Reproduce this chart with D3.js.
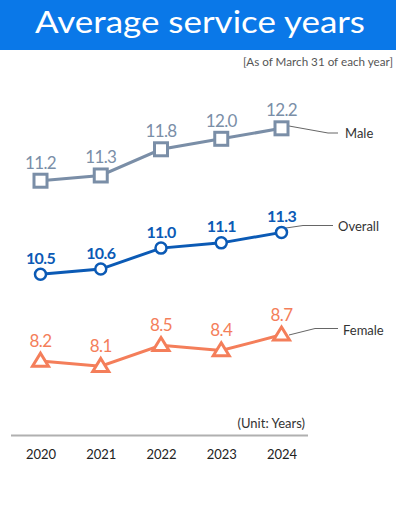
<!DOCTYPE html>
<html><head><meta charset="utf-8">
<script src="https://cdn.jsdelivr.net/npm/d3@7"></script>
<style>body{margin:0;background:#fff}svg{display:block}</style>
</head><body>
<svg id="chart" width="397" height="531"></svg>
<script>
const years = ["2020","2021","2022","2023","2024"];
const maleValues = [11.2, 11.3, 11.8, 12.0, 12.2];
const overallValues = [10.5, 10.6, 11.0, 11.1, 11.3];
const femaleValues = [8.2, 8.1, 8.5, 8.4, 8.7];
const seriesNames = ["Male","Overall","Female"];
const titleText = "Average service years";
const noteText = "[As of March 31 of each year]";
const unitText = "(Unit: Years)";

const svg = d3.select("#chart");
const font = "Lato, 'Noto Sans', sans-serif";

// title bar
svg.append("rect").attr("x",0).attr("y",0).attr("width",396).attr("height",50).attr("fill","#0a78e8");
svg.append("text").attr("x",200).attr("y",33).attr("text-anchor","middle")
  .attr("fill","#fff").attr("font-family",font).attr("font-size",30)
  .attr("textLength",330).attr("lengthAdjust","spacingAndGlyphs").text(titleText);
svg.append("text").attr("x",393).attr("y",66).attr("text-anchor","end")
  .attr("fill","#555").attr("font-family",font).attr("font-size",11.5)
  .attr("textLength",150).attr("lengthAdjust","spacingAndGlyphs").text(noteText);

const x = d3.scalePoint().domain(years).range([40.5, 281.5]);

const series = [
  {name:seriesNames[0], values:maleValues, color:"#7a8ea7", marker:"square",
   y:d3.scaleLinear().domain([11,12.5]).range([191.2,112.6]),
   labelDy:-18, labelWeight:400, labelSize:17,
   leader:[[289,126],[328,133],[338,133]], legendX:345, legendY:133},
  {name:seriesNames[1], values:overallValues, color:"#0b5ab5", marker:"circle",
   y:d3.scaleLinear().domain([10.3,11.5]).range([284.8,221.9]),
   labelDy:-16, labelWeight:700, labelSize:16,
   leader:[[286,228],[303,225.5],[333,225.5]], legendX:338, legendY:226},
  {name:seriesNames[2], values:femaleValues, color:"#f47e5a", marker:"triangle",
   y:d3.scaleLinear().domain([8,9]).range([371.5,319.1]),
   labelDy:-20, labelWeight:400, labelSize:17,
   leader:[[289,335],[315,328.5],[338,328.5]], legendX:343, legendY:330}
];

const line = d3.line();
series.forEach(s => {
  const pts = s.values.map((v,i)=>[x(years[i]), s.y(v)]);
  svg.append("path").attr("d", line(s.leader)).attr("fill","none")
    .attr("stroke","#666").attr("stroke-width",1);
  svg.append("text").attr("x",s.legendX).attr("y",s.legendY).attr("dy","0.35em")
    .attr("fill","#333").attr("font-family",font).attr("font-size",13).text(s.name);
  svg.append("path").attr("d", line(pts)).attr("fill","none")
    .attr("stroke",s.color).attr("stroke-width",3);
  const g = svg.append("g");
  pts.forEach((p,i)=>{
    if (s.marker==="square") {
      g.append("rect").attr("x",p[0]-6.5).attr("y",p[1]-6.5).attr("width",13).attr("height",13)
        .attr("fill","#fff").attr("stroke",s.color).attr("stroke-width",3);
    } else if (s.marker==="circle") {
      g.append("circle").attr("cx",p[0]).attr("cy",p[1]).attr("r",5.5)
        .attr("fill","#fff").attr("stroke",s.color).attr("stroke-width",2.5);
    } else {
      const h=13, w=16;
      g.append("path").attr("d", line([[p[0],p[1]-h*0.6],[p[0]+w/2,p[1]+h*0.4],[p[0]-w/2,p[1]+h*0.4]])+"Z")
        .attr("fill","#fff").attr("stroke",s.color).attr("stroke-width",3).attr("stroke-linejoin","miter");
    }
    svg.append("text").attr("x",p[0]).attr("y",p[1]+s.labelDy).attr("dy","0.35em")
      .attr("text-anchor","middle").attr("fill",s.color).attr("font-family",font)
      .attr("font-size",s.labelSize).attr("font-weight",s.labelWeight)
      .attr("letter-spacing","-0.6px")
      .text(s.values[i].toFixed(1));
  });
});

// unit and axis
svg.append("text").attr("x",305).attr("y",423).attr("dy","0.35em").attr("text-anchor","end")
  .attr("fill","#333").attr("font-family",font).attr("font-size",13).text(unitText);
svg.append("line").attr("x1",11).attr("x2",308).attr("y1",435.5).attr("y2",435.5)
  .attr("stroke","#b0b0b0").attr("stroke-width",2);
const xAxis = d3.axisBottom(x).tickSize(0).tickPadding(0);
const ag = svg.append("g").attr("transform","translate(0,450)").call(xAxis);
ag.select(".domain").remove();
ag.selectAll("text").attr("font-family",font).attr("font-size",13).attr("fill","#222");
</script>
</body></html>
